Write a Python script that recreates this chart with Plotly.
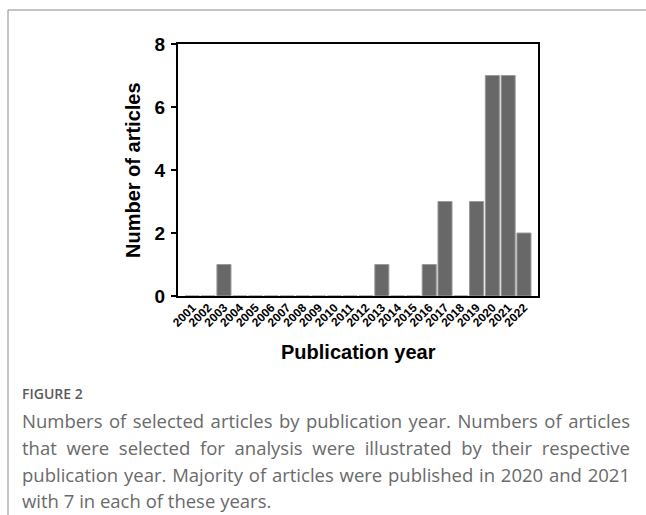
import plotly.graph_objects as go

years = ["2001", "2002", "2003", "2004", "2005", "2006", "2007", "2008", "2009", "2010", "2011",
         "2012", "2013", "2014", "2015", "2016", "2017", "2018", "2019", "2020", "2021", "2022"]
counts = [0, 0, 1, 0, 0, 0, 0, 0, 0, 0, 0, 0, 1, 0, 0, 1, 3, 0, 3, 7, 7, 2]
y_ticks = [0, 2, 4, 6, 8]

x_title = "Publication year"
y_title = "Number of articles"
fig_label = "FIGURE 2"
caption_lines = [
    "Numbers of selected articles by publication year. Numbers of articles",
    "that were selected for analysis were illustrated by their respective",
    "publication year. Majority of articles were published in 2020 and 2021",
    "with 7 in each of these years.",
]

W, H = 646, 515
L, R, T, B = 178, 538, 44, 296  # plot area in pixels
pw, ph = R - L, B - T


def px(x):
    return (x - L) / pw


def py(y):
    return (B - y) / ph


fig = go.Figure()
fig.add_trace(go.Bar(
    x=years, y=counts,
    marker=dict(color="#686868", line=dict(color="#9a9a9a", width=1)),
    showlegend=False,
))

annotations = [
    dict(text=f"<b>{y_title}</b>", x=px(133), y=py(170), xref="paper", yref="paper",
         xanchor="center", yanchor="middle",
         textangle=-90, showarrow=False, font=dict(family="Arial", size=20, color="black")),
    dict(text=f"<b>{x_title}</b>", x=px(358), y=py(352), xref="paper", yref="paper",
         xanchor="center", yanchor="middle",
         showarrow=False, font=dict(family="Arial", size=20, color="black")),
    dict(text=fig_label, x=px(20), y=py(393), xref="paper", yref="paper", xanchor="left",
         yanchor="middle", showarrow=False,
         font=dict(family="Open Sans", size=14, color="#5a5a5a", weight=600)),
]
line_y = [420, 447, 474, 500]
for i, (txt, yy) in enumerate(zip(caption_lines, line_y)):
    annotations.append(dict(text=txt, x=px(20), y=py(yy), xref="paper", yref="paper",
                            xanchor="left", yanchor="middle", align="left", showarrow=False,
                            font=dict(family="Open Sans", size=18.5, color="#6a6a6a")))

shapes = [
    dict(type="line", xref="paper", yref="paper", x0=px(8), x1=px(646), y0=py(10), y1=py(10),
         line=dict(color="#8a8a8a", width=1)),
    dict(type="line", xref="paper", yref="paper", x0=px(8), x1=px(8), y0=py(10), y1=py(515),
         line=dict(color="#8a8a8a", width=1)),
]

fig.update_layout(
    width=W, height=H,
    margin=dict(l=L, r=W - R, t=T, b=H - B, pad=0),
    paper_bgcolor="white", plot_bgcolor="white",
    bargap=0.11,
    annotations=annotations,
    shapes=shapes,
    xaxis=dict(
        type="category", range=[-0.91, 21.89], tickangle=-45,
        showline=True, linecolor="black", linewidth=2, mirror=True,
        ticks="", showgrid=False, zeroline=False, ticklabelstandoff=-2,
        tickfont=dict(family="Arial", size=12, color="black", weight="bold"),
        automargin=False,
    ),
    yaxis=dict(
        range=[0, 8], tickvals=y_ticks, showline=True, linecolor="black", linewidth=2,
        mirror=True, ticks="outside", ticklen=5, tickwidth=2, tickcolor="black",
        showgrid=False, zeroline=False, ticklabelstandoff=2,
        tickfont=dict(family="Arial", size=19, color="black", weight="bold"),
        automargin=False,
    ),
)

post = """
document.body.style.margin = '0';
document.body.style.overflow = 'hidden';
var gd = document.getElementById('{plot_id}');
var target = 608;
var idx = [3, 4, 5];
idx.forEach(function(i){
  var g = gd.querySelector('g.annotation[data-index="' + i + '"] text.annotation-text');
  if(!g) return;
  var txt = g.textContent;
  var n = (txt.match(/ /g) || []).length;
  var w = g.getComputedTextLength();
  if(n > 0 && w < target){ g.style.wordSpacing = ((target - w) / n) + 'px'; }
});
"""

fig.write_html("out.html", post_script=post, config={"displayModeBar": False})
